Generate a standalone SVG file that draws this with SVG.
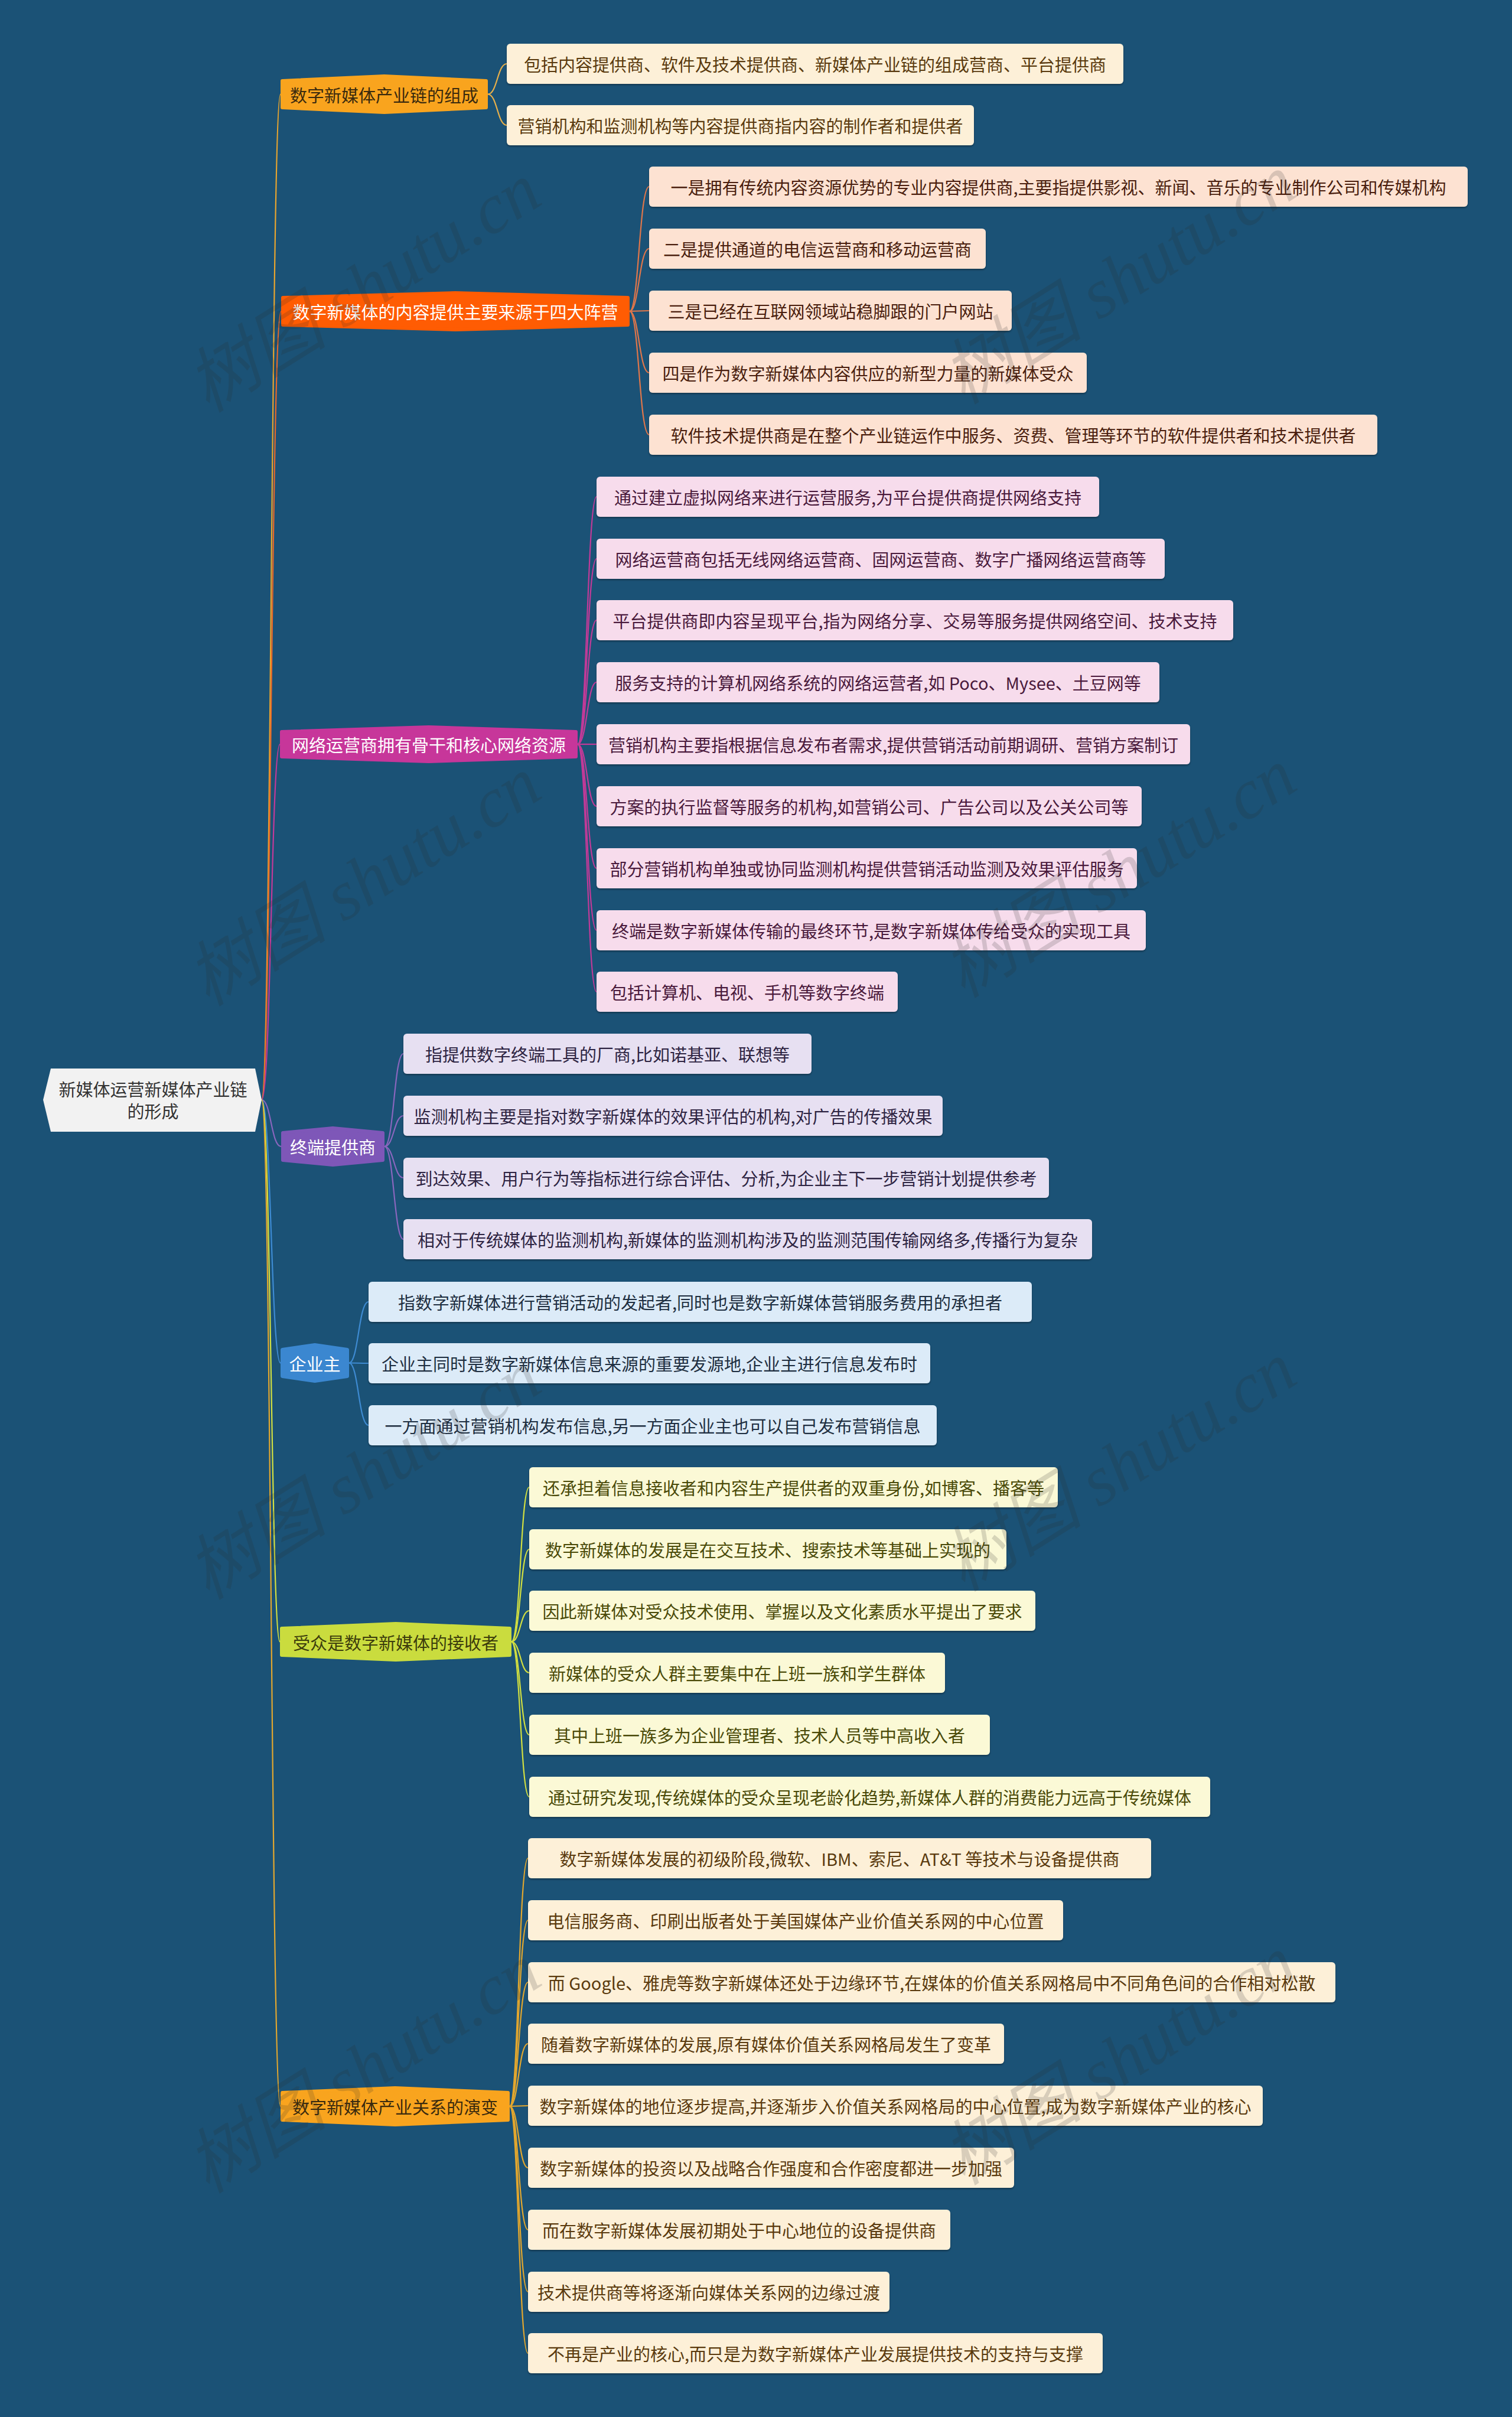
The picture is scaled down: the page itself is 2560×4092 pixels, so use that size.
<svg xmlns="http://www.w3.org/2000/svg" width="2560" height="4092" viewBox="0 0 2560 4092">
<defs>
<style>
text{font-family:"Noto Sans CJK SC","Noto Sans",sans-serif;font-size:29px;dominant-baseline:central;text-anchor:middle}
.leaf rect{filter:url(#sh)}
.b1 rect{fill:#FDF0D8}.b1 text{fill:#5A3A0E}
.b2 rect{fill:#FDE2D2}.b2 text{fill:#4A1E0E}
.b3 rect{fill:#F7DCEC}.b3 text{fill:#4A1A3C}
.b4 rect{fill:#E7E0F2}.b4 text{fill:#2E2442}
.b5 rect{fill:#DCEBF8}.b5 text{fill:#1E2E40}
.b6 rect{fill:#FBF9D6}.b6 text{fill:#4A4A08}
.b7 rect{fill:#FDF0D8}.b7 text{fill:#5A3A0E}
.hx{stroke-width:6;stroke-linejoin:round}
.conn path{fill:none;stroke-width:2.2}
.wm{font-family:"Liberation Serif","Noto Sans CJK SC",serif;font-style:italic;font-size:120px;fill:#2a2a2a;opacity:.17;text-anchor:start;dominant-baseline:auto}
</style>
<filter id="sh" x="-5%" y="-20%" width="110%" height="150%">
<feDropShadow dx="0" dy="2" stdDeviation="1.5" flood-color="#000" flood-opacity="0.35"/>
</filter>
</defs>
<rect width="2560" height="4092" fill="#1B5276"/>

<g id="connectors" class="conn">
<path d="M443 1862 C459 1862 459 159.5 475 159.5" stroke="#E9A52E"/>
<path d="M443 1862 C459 1862 459 527 476 527" stroke="#E8682A"/>
<path d="M443 1862 C459 1862 459 1260 474 1260" stroke="#C23A98"/>
<path d="M443 1862 C459 1862 459 1941 476 1941" stroke="#8A66BE"/>
<path d="M443 1862 C459 1862 459 2307.5 475 2307.5" stroke="#3E8BD2"/>
<path d="M443 1862 C459 1862 459 2779.5 474 2779.5" stroke="#D3E040"/>
<path d="M443 1862 C459 1862 459 3566 475 3566" stroke="#E3A72E"/>
<g stroke="#E9B04A">
<path d="M826 159.5 C842 159.5 842 108 858 108"/>
<path d="M826 159.5 C842 159.5 842 212 858 212"/>
</g>
<g stroke="#E0764A">
<path d="M1066 527 C1082 527 1082 316 1099 316"/>
<path d="M1066 527 C1082 527 1082 421 1099 421"/>
<path d="M1066 527 C1082 527 1082 526 1099 526"/>
<path d="M1066 527 C1082 527 1082 631 1099 631"/>
<path d="M1066 527 C1082 527 1082 736 1099 736"/>
</g>
<g stroke="#C23A98">
<path d="M978 1260 C994 1260 994 841 1010 841"/>
<path d="M978 1260 C994 1260 994 946 1010 946"/>
<path d="M978 1260 C994 1260 994 1050 1010 1050"/>
<path d="M978 1260 C994 1260 994 1155 1010 1155"/>
<path d="M978 1260 C994 1260 994 1260 1010 1260"/>
<path d="M978 1260 C994 1260 994 1365 1010 1365"/>
<path d="M978 1260 C994 1260 994 1470 1010 1470"/>
<path d="M978 1260 C994 1260 994 1575 1010 1575"/>
<path d="M978 1260 C994 1260 994 1679 1010 1679"/>
</g>
<g stroke="#8A66BE">
<path d="M651 1941 C667 1941 667 1784 683 1784"/>
<path d="M651 1941 C667 1941 667 1889 683 1889"/>
<path d="M651 1941 C667 1941 667 1994 683 1994"/>
<path d="M651 1941 C667 1941 667 2098 683 2098"/>
</g>
<g stroke="#3E8BD2">
<path d="M591 2307.5 C607 2307.5 607 2204 624 2204"/>
<path d="M591 2307.5 C607 2307.5 607 2308 624 2308"/>
<path d="M591 2307.5 C607 2307.5 607 2413 624 2413"/>
</g>
<g stroke="#D3E040">
<path d="M866 2779.5 C881 2779.5 881 2518 896 2518"/>
<path d="M866 2779.5 C881 2779.5 881 2623 896 2623"/>
<path d="M866 2779.5 C881 2779.5 881 2727 896 2727"/>
<path d="M866 2779.5 C881 2779.5 881 2832 896 2832"/>
<path d="M866 2779.5 C881 2779.5 881 2937 896 2937"/>
<path d="M866 2779.5 C881 2779.5 881 3042 896 3042"/>
</g>
<g stroke="#E3A72E">
<path d="M863 3566 C878 3566 878 3146 894 3146"/>
<path d="M863 3566 C878 3566 878 3251 894 3251"/>
<path d="M863 3566 C878 3566 878 3356 894 3356"/>
<path d="M863 3566 C878 3566 878 3460 894 3460"/>
<path d="M863 3566 C878 3566 878 3565 894 3565"/>
<path d="M863 3566 C878 3566 878 3670 894 3670"/>
<path d="M863 3566 C878 3566 878 3775 894 3775"/>
<path d="M863 3566 C878 3566 878 3880 894 3880"/>
<path d="M863 3566 C878 3566 878 3984 894 3984"/>
</g>
</g>

<g id="root">
<polygon points="86,1809 432,1809 443,1862 432,1916 86,1916 73,1862" fill="#F2F2F2"/>
<text x="259" y="1843" fill="#333">新媒体运营新媒体产业链</text>
<text x="259" y="1880" fill="#333">的形成</text>
</g>

<g id="branch1">
<polygon class="hx" points="478,137 650.5,129 823,137 823,182 650.5,190 478,182" fill="#F9A41E" stroke="#F9A41E"/>
<text x="650.5" y="159.5" fill="#3A2A0E">数字新媒体产业链的组成</text>
</g>
<g id="branch2">
<polygon class="hx" points="479,504 771,496 1063,504 1063,550 771,558 479,550" fill="#FF5C03" stroke="#FF5C03"/>
<text x="771" y="527" fill="#FFFFFF">数字新媒体的内容提供主要来源于四大阵营</text>
</g>
<g id="branch3">
<polygon class="hx" points="477,1239 726,1231 975,1239 975,1281 726,1289 477,1281" fill="#C7369A" stroke="#C7369A"/>
<text x="726" y="1260" fill="#FFFFFF">网络运营商拥有骨干和核心网络资源</text>
</g>
<g id="branch4">
<polygon class="hx" points="479,1918 563.5,1910 648,1918 648,1964 563.5,1972 479,1964" fill="#7E57B8" stroke="#7E57B8"/>
<text x="563.5" y="1941" fill="#FFFFFF">终端提供商</text>
</g>
<g id="branch5">
<polygon class="hx" points="478,2285 533,2277 588,2285 588,2330 533,2338 478,2330" fill="#3B87D0" stroke="#3B87D0"/>
<text x="533" y="2307.5" fill="#FFFFFF">企业主</text>
</g>
<g id="branch6">
<polygon class="hx" points="477,2757 670,2749 863,2757 863,2802 670,2810 477,2802" fill="#CADC3E" stroke="#CADC3E"/>
<text x="670" y="2779.5" fill="#3C3C0C">受众是数字新媒体的接收者</text>
</g>
<g id="branch7">
<polygon class="hx" points="478,3543 669,3535 860,3543 860,3589 669,3597 478,3589" fill="#F9A41E" stroke="#F9A41E"/>
<text x="669" y="3566" fill="#3A2A0E">数字新媒体产业关系的演变</text>
</g>

<g id="b1-leaves" class="leaf b1">
<g id="b1l1"><rect x="858" y="74" width="1044" height="68" rx="6"/><text x="1380" y="108">包括内容提供商、软件及技术提供商、新媒体产业链的组成营商、平台提供商</text></g>
<g id="b1l2"><rect x="858" y="178" width="791" height="68" rx="6"/><text x="1253.5" y="212">营销机构和监测机构等内容提供商指内容的制作者和提供者</text></g>
</g>

<g id="b2-leaves" class="leaf b2">
<g id="b2l1"><rect x="1099" y="282" width="1386" height="68" rx="6"/><text x="1792" y="316">一是拥有传统内容资源优势的专业内容提供商,主要指提供影视、新闻、音乐的专业制作公司和传媒机构</text></g>
<g id="b2l2"><rect x="1099" y="387" width="570" height="68" rx="6"/><text x="1384" y="421">二是提供通道的电信运营商和移动运营商</text></g>
<g id="b2l3"><rect x="1099" y="492" width="614" height="68" rx="6"/><text x="1406" y="526">三是已经在互联网领域站稳脚跟的门户网站</text></g>
<g id="b2l4"><rect x="1099" y="597" width="741" height="68" rx="6"/><text x="1469.5" y="631">四是作为数字新媒体内容供应的新型力量的新媒体受众</text></g>
<g id="b2l5"><rect x="1099" y="702" width="1233" height="68" rx="6"/><text x="1715.5" y="736">软件技术提供商是在整个产业链运作中服务、资费、管理等环节的软件提供者和技术提供者</text></g>
</g>

<g id="b3-leaves" class="leaf b3">
<g id="b3l1"><rect x="1010" y="807" width="851" height="68" rx="6"/><text x="1435.5" y="841">通过建立虚拟网络来进行运营服务,为平台提供商提供网络支持</text></g>
<g id="b3l2"><rect x="1010" y="912" width="962" height="68" rx="6"/><text x="1491" y="946">网络运营商包括无线网络运营商、固网运营商、数字广播网络运营商等</text></g>
<g id="b3l3"><rect x="1010" y="1016" width="1078" height="68" rx="6"/><text x="1549" y="1050">平台提供商即内容呈现平台,指为网络分享、交易等服务提供网络空间、技术支持</text></g>
<g id="b3l4"><rect x="1010" y="1121" width="953" height="68" rx="6"/><text x="1486.5" y="1155">服务支持的计算机网络系统的网络运营者,如 Poco、Mysee、土豆网等</text></g>
<g id="b3l5"><rect x="1010" y="1226" width="1005" height="68" rx="6"/><text x="1512.5" y="1260">营销机构主要指根据信息发布者需求,提供营销活动前期调研、营销方案制订</text></g>
<g id="b3l6"><rect x="1010" y="1331" width="923" height="68" rx="6"/><text x="1471.5" y="1365">方案的执行监督等服务的机构,如营销公司、广告公司以及公关公司等</text></g>
<g id="b3l7"><rect x="1010" y="1436" width="915" height="68" rx="6"/><text x="1467.5" y="1470">部分营销机构单独或协同监测机构提供营销活动监测及效果评估服务</text></g>
<g id="b3l8"><rect x="1010" y="1541" width="930" height="68" rx="6"/><text x="1475" y="1575">终端是数字新媒体传输的最终环节,是数字新媒体传给受众的实现工具</text></g>
<g id="b3l9"><rect x="1010" y="1645" width="510" height="68" rx="6"/><text x="1265" y="1679">包括计算机、电视、手机等数字终端</text></g>
</g>

<g id="b4-leaves" class="leaf b4">
<g id="b4l1"><rect x="683" y="1750" width="691" height="68" rx="6"/><text x="1028.5" y="1784">指提供数字终端工具的厂商,比如诺基亚、联想等</text></g>
<g id="b4l2"><rect x="683" y="1855" width="913" height="68" rx="6"/><text x="1139.5" y="1889">监测机构主要是指对数字新媒体的效果评估的机构,对广告的传播效果</text></g>
<g id="b4l3"><rect x="683" y="1960" width="1093" height="68" rx="6"/><text x="1229.5" y="1994">到达效果、用户行为等指标进行综合评估、分析,为企业主下一步营销计划提供参考</text></g>
<g id="b4l4"><rect x="683" y="2064" width="1166" height="68" rx="6"/><text x="1266" y="2098">相对于传统媒体的监测机构,新媒体的监测机构涉及的监测范围传输网络多,传播行为复杂</text></g>
</g>

<g id="b5-leaves" class="leaf b5">
<g id="b5l1"><rect x="624" y="2170" width="1123" height="68" rx="6"/><text x="1185.5" y="2204">指数字新媒体进行营销活动的发起者,同时也是数字新媒体营销服务费用的承担者</text></g>
<g id="b5l2"><rect x="624" y="2274" width="951" height="68" rx="6"/><text x="1099.5" y="2308">企业主同时是数字新媒体信息来源的重要发源地,企业主进行信息发布时</text></g>
<g id="b5l3"><rect x="624" y="2379" width="962" height="68" rx="6"/><text x="1105" y="2413">一方面通过营销机构发布信息,另一方面企业主也可以自己发布营销信息</text></g>
</g>

<g id="b6-leaves" class="leaf b6">
<g id="b6l1"><rect x="896" y="2484" width="895" height="68" rx="6"/><text x="1343.5" y="2518">还承担着信息接收者和内容生产提供者的双重身份,如博客、播客等</text></g>
<g id="b6l2"><rect x="896" y="2589" width="808" height="68" rx="6"/><text x="1300" y="2623">数字新媒体的发展是在交互技术、搜索技术等基础上实现的</text></g>
<g id="b6l3"><rect x="896" y="2693" width="857" height="68" rx="6"/><text x="1324.5" y="2727">因此新媒体对受众技术使用、掌握以及文化素质水平提出了要求</text></g>
<g id="b6l4"><rect x="896" y="2798" width="704" height="68" rx="6"/><text x="1248" y="2832">新媒体的受众人群主要集中在上班一族和学生群体</text></g>
<g id="b6l5"><rect x="896" y="2903" width="780" height="68" rx="6"/><text x="1286" y="2937">其中上班一族多为企业管理者、技术人员等中高收入者</text></g>
<g id="b6l6"><rect x="896" y="3008" width="1153" height="68" rx="6"/><text x="1472.5" y="3042">通过研究发现,传统媒体的受众呈现老龄化趋势,新媒体人群的消费能力远高于传统媒体</text></g>
</g>

<g id="b7-leaves" class="leaf b7">
<g id="b7l1"><rect x="894" y="3112" width="1055" height="68" rx="6"/><text x="1421.5" y="3146">数字新媒体发展的初级阶段,微软、IBM、索尼、AT&amp;T 等技术与设备提供商</text></g>
<g id="b7l2"><rect x="894" y="3217" width="906" height="68" rx="6"/><text x="1347" y="3251">电信服务商、印刷出版者处于美国媒体产业价值关系网的中心位置</text></g>
<g id="b7l3"><rect x="894" y="3322" width="1367" height="68" rx="6"/><text x="1577.5" y="3356">而 Google、雅虎等数字新媒体还处于边缘环节,在媒体的价值关系网格局中不同角色间的合作相对松散</text></g>
<g id="b7l4"><rect x="894" y="3426" width="806" height="68" rx="6"/><text x="1297" y="3460">随着数字新媒体的发展,原有媒体价值关系网格局发生了变革</text></g>
<g id="b7l5"><rect x="894" y="3531" width="1244" height="68" rx="6"/><text x="1516" y="3565">数字新媒体的地位逐步提高,并逐渐步入价值关系网格局的中心位置,成为数字新媒体产业的核心</text></g>
<g id="b7l6"><rect x="894" y="3636" width="823" height="68" rx="6"/><text x="1305.5" y="3670">数字新媒体的投资以及战略合作强度和合作密度都进一步加强</text></g>
<g id="b7l7"><rect x="894" y="3741" width="715" height="68" rx="6"/><text x="1251.5" y="3775">而在数字新媒体发展初期处于中心地位的设备提供商</text></g>
<g id="b7l8"><rect x="894" y="3846" width="612" height="68" rx="6"/><text x="1200" y="3880">技术提供商等将逐渐向媒体关系网的边缘过渡</text></g>
<g id="b7l9"><rect x="894" y="3950" width="973" height="68" rx="6"/><text x="1380.5" y="3984">不再是产业的核心,而只是为数字新媒体产业发展提供技术的支持与支撑</text></g>
</g>

<g id="watermarks">
<text class="wm" transform="translate(352,700) rotate(-32)">树图 shutu.cn</text>
<text class="wm" transform="translate(1631,686) rotate(-32)">树图 shutu.cn</text>
<text class="wm" transform="translate(352,1705) rotate(-32)">树图 shutu.cn</text>
<text class="wm" transform="translate(1631,1691) rotate(-32)">树图 shutu.cn</text>
<text class="wm" transform="translate(352,2710) rotate(-32)">树图 shutu.cn</text>
<text class="wm" transform="translate(1631,2696) rotate(-32)">树图 shutu.cn</text>
<text class="wm" transform="translate(352,3715) rotate(-32)">树图 shutu.cn</text>
<text class="wm" transform="translate(1631,3701) rotate(-32)">树图 shutu.cn</text>
</g>
</svg>
